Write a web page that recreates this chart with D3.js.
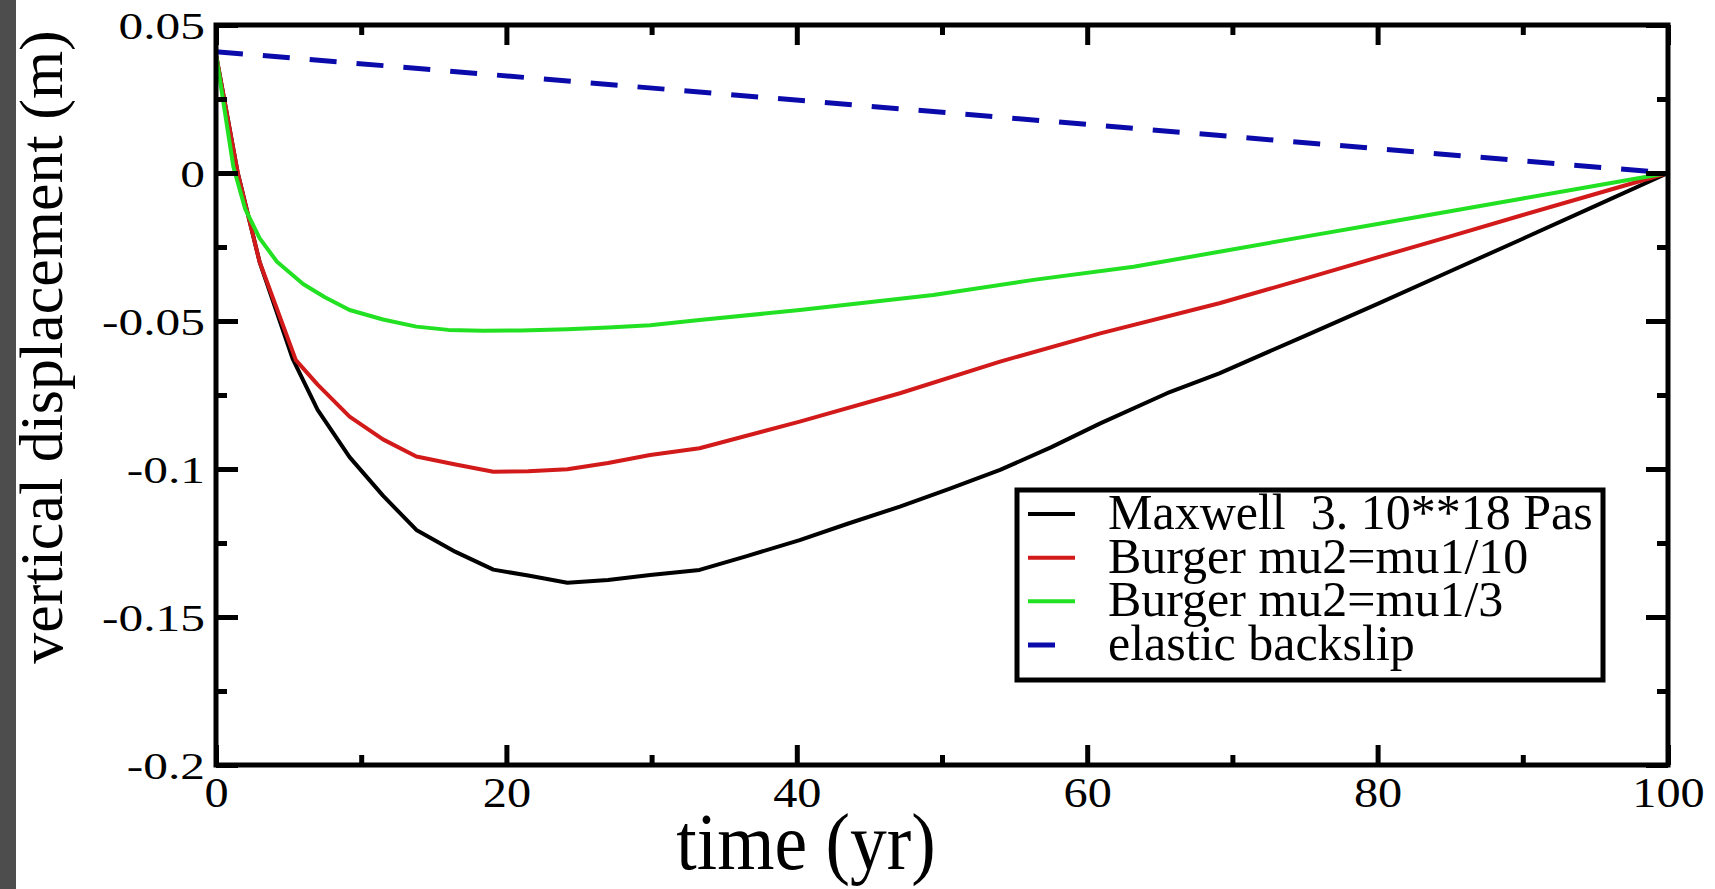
<!DOCTYPE html>
<html><head><meta charset="utf-8">
<script src="https://cdn.jsdelivr.net/npm/d3@7"></script>
<style>
body{margin:0;background:#fff;overflow:hidden;}
svg{display:block;}
svg text{font-family:"Liberation Serif","Times New Roman",Times,serif;fill:#000;}
</style>
</head><body>
<svg id="chart" width="1715" height="889" font-family="Liberation Serif, Times New Roman, serif"></svg>
<script>
// ---- data ----
const xTicks = [0, 20, 40, 60, 80, 100];
const xMinorTicks = [10, 30, 50, 70, 90];
const yTicks = [0.05, 0, -0.05, -0.1, -0.15, -0.2];
const yMinorTicks = [0.025, -0.025, -0.075, -0.125, -0.175];
const xTickLabels = ["0", "20", "40", "60", "80", "100"];
const yTickLabels = ["0.05", "0", "-0.05", "-0.1", "-0.15", "-0.2"];
const xTitle = "time (yr)";
const yTitle = "vertical displacement (m)";

const seriesNames = ["Maxwell  3. 10**18 Pas", "Burger mu2=mu1/10", "Burger mu2=mu1/3", "elastic backslip"];
const seriesColors = ["#000000", "#d21a1a", "#22e022", "#0b0bab"];

const timeMaxwell = [0, 1.5, 3, 5.3, 7, 9.2, 11.5, 13.8, 16.5, 19.1, 21.5, 24.2, 27, 29.9, 33.3, 36.5, 40.2, 43.5, 47.1, 50.5, 54, 57.5, 60.9, 65.5, 69.1, 75, 80, 85, 90, 95, 100];
const dispMaxwell = [0.04, 0, -0.03, -0.063, -0.08, -0.096, -0.109, -0.1206, -0.128, -0.134, -0.136, -0.1384, -0.1375, -0.1358, -0.1341, -0.1295, -0.124, -0.1185, -0.1127, -0.1067, -0.1003, -0.0927, -0.0846, -0.0744, -0.0677, -0.055, -0.0442, -0.0332, -0.0222, -0.0111, 0];

const timeBurger10 = [0, 1.5, 3, 5.5, 7, 9.2, 11.5, 13.8, 16.5, 19.1, 21.5, 24.2, 27, 29.9, 33.3, 40.2, 47.1, 54, 60.9, 69.1, 75, 80, 85, 90, 95, 100];
const dispBurger10 = [0.04, 0, -0.03, -0.0632, -0.0715, -0.0823, -0.09, -0.0958, -0.0985, -0.1009, -0.1008, -0.1001, -0.098, -0.0953, -0.093, -0.084, -0.0744, -0.0637, -0.0542, -0.044, -0.0357, -0.0285, -0.0214, -0.0142, -0.0071, 0];

const timeBurger3 = [0, 1.2, 2, 3, 4.2, 6, 7.5, 9.2, 11.5, 13.8, 16, 18.4, 21, 24.2, 27, 29.9, 33.3, 40.2, 49.4, 56.3, 63.2, 69.1, 75, 80, 85, 90, 95, 100];
const dispBurger3 = [0.04, 0.002, -0.012, -0.022, -0.03, -0.0375, -0.042, -0.0463, -0.0495, -0.0519, -0.053, -0.0533, -0.0532, -0.0528, -0.0522, -0.0514, -0.0497, -0.0463, -0.0412, -0.0361, -0.0317, -0.0266, -0.0215, -0.0172, -0.0129, -0.0086, -0.0043, 0];

const timeElastic = [0, 100];
const dispElastic = [0.041, 0];

// ---- layout ----
const svg = d3.select("#chart");
const L = 216, R = 1668, T = 25, B = 765;
const x = d3.scaleLinear().domain([0, 100]).range([L, R]);
const y = d3.scaleLinear().domain([-0.2, 0.05]).range([B, T]);
const serif = "Liberation Serif, Times New Roman, serif";

// left gray strip
svg.append("rect").attr("x", 0).attr("y", 0).attr("width", 16).attr("height", 889).attr("fill", "#4d4d4d");

const series = [
  {t: timeMaxwell, v: dispMaxwell},
  {t: timeBurger10, v: dispBurger10},
  {t: timeBurger3, v: dispBurger3},
  {t: timeElastic, v: dispElastic}
].map((s, i) => ({name: seriesNames[i], color: seriesColors[i], pts: s.t.map((t, j) => [t, s.v[j]]), dashed: i === 3}));

const line = d3.line().x(d => x(d[0])).y(d => y(d[1])).curve(d3.curveLinear);

const plot = svg.append("g");
series.forEach(s => {
  plot.append("path").attr("d", line(s.pts)).attr("fill", "none")
    .attr("stroke", s.color).attr("stroke-width", s.dashed ? 5 : 4)
    .attr("stroke-dasharray", s.dashed ? "27,20" : null)
    .attr("stroke-linejoin", "round");
});

// axes ticks (inward, mirrored)
function styleAxis(g) {
  g.attr("font-family", serif);
  g.select(".domain").remove();
  g.selectAll(".tick line").attr("stroke", "#000").attr("stroke-width", 5);
}
const fmtX = d => xTickLabels[xTicks.indexOf(d)];
const fmtY = d => yTickLabels[yTicks.findIndex(v => Math.abs(v - d) < 1e-9)];

// bottom
const gb = svg.append("g").attr("transform", `translate(0,${B})`)
  .call(d3.axisBottom(x).tickValues(xTicks).tickSize(-20).tickPadding(0).tickFormat(fmtX));
styleAxis(gb);
gb.selectAll(".tick text").attr("y", 0).attr("dy", null)
  .attr("transform", "translate(0,42) scale(1.15,1)")
  .attr("font-family", serif).style("font-size", "42px");
svg.append("g").attr("transform", `translate(0,${B})`)
  .call(d3.axisBottom(x).tickValues(xMinorTicks).tickSize(-10).tickFormat(""))
  .call(styleAxis);
// top
svg.append("g").attr("transform", `translate(0,${T})`)
  .call(d3.axisTop(x).tickValues(xTicks).tickSize(-20).tickFormat("")).call(styleAxis);
svg.append("g").attr("transform", `translate(0,${T})`)
  .call(d3.axisTop(x).tickValues(xMinorTicks).tickSize(-10).tickFormat("")).call(styleAxis);
// left
const gl = svg.append("g").attr("transform", `translate(${L},0)`)
  .call(d3.axisLeft(y).tickValues(yTicks).tickSize(-22).tickPadding(0).tickFormat(fmtY));
styleAxis(gl);
gl.selectAll(".tick text").attr("x", 0).attr("dy", null)
  .attr("transform", "translate(-11,13) scale(1.3,1)")
  .attr("font-family", serif).style("font-size", "38px");
svg.append("g").attr("transform", `translate(${L},0)`)
  .call(d3.axisLeft(y).tickValues(yMinorTicks).tickSize(-11).tickFormat("")).call(styleAxis);
// right
svg.append("g").attr("transform", `translate(${R},0)`)
  .call(d3.axisRight(y).tickValues(yTicks).tickSize(-22).tickFormat("")).call(styleAxis);
svg.append("g").attr("transform", `translate(${R},0)`)
  .call(d3.axisRight(y).tickValues(yMinorTicks).tickSize(-11).tickFormat("")).call(styleAxis);

// frame
svg.append("rect").attr("x", L).attr("y", T).attr("width", R - L).attr("height", B - T)
  .attr("fill", "none").attr("stroke", "#000").attr("stroke-width", 5);

// axis titles
svg.append("text").attr("transform", "translate(806,869) scale(0.92,1)")
  .attr("text-anchor", "middle").style("font-size", "80px").text(xTitle);
svg.append("text").attr("transform", "translate(62,347) rotate(-90)")
  .attr("text-anchor", "middle").style("font-size", "62px").text(yTitle);

// legend
const lg = svg.append("g");
lg.append("rect").attr("x", 1017).attr("y", 490).attr("width", 586).attr("height", 190)
  .attr("fill", "#fff").attr("stroke", "#000").attr("stroke-width", 5);
const rowY = d3.scaleLinear().domain([0, 3]).range([514, 645]);
series.forEach((s, i) => {
  const yy = rowY(i);
  lg.append("line").attr("x1", 1028).attr("x2", 1075).attr("y1", yy).attr("y2", yy)
    .attr("stroke", s.color).attr("stroke-width", s.dashed ? 5 : 4)
    .attr("stroke-dasharray", s.dashed ? "27,20" : null);
  lg.append("text").attr("x", 1108).attr("y", yy + 15)
    .style("font-size", "50px").style("white-space", "pre").text(s.name);
});
</script>
</body></html>
